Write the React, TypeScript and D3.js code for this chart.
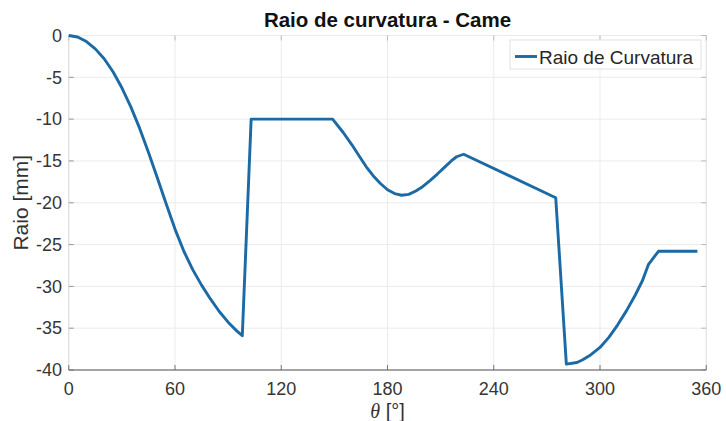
import React from "react";
import * as d3 from "d3";

const thetaDeg = [0, 5, 10, 15, 20, 25, 30, 35, 40, 45, 50, 55, 60, 65, 70, 75, 80, 85, 90, 95, 98,
  103, 149, 155, 160, 164, 168, 172, 176, 180, 184, 188, 192, 196, 200, 204, 208, 212, 216, 219, 223,
  275, 281, 287, 290, 294, 300, 305, 310, 315, 320, 324, 327.3, 333, 355];
const raioMm = [0, -0.18, -0.72, -1.6, -2.78, -4.33, -6.25, -8.5, -11.08, -13.95, -17.0, -20.13, -23.15, -25.8, -28.0, -29.85, -31.5, -33.0, -34.28, -35.35, -35.9,
  -10, -10, -11.6, -13.1, -14.4, -15.7, -16.8, -17.7, -18.45, -18.9, -19.1, -19.0, -18.6, -18.05, -17.35, -16.6, -15.8, -15.0, -14.5, -14.2,
  -19.4, -39.3, -39.1, -38.8, -38.3, -37.3, -36.1, -34.6, -32.9, -31.0, -29.3, -27.4, -25.8, -25.8];

const xTicks = [0, 60, 120, 180, 240, 300, 360];
const yTicks = [0, -5, -10, -15, -20, -25, -30, -35, -40];

const titleText = "Raio de curvatura - Came";
const legendLabel = "Raio de Curvatura";
const yLabel = "Raio [mm]";

export default function App() {
  const W = 726, H = 421;
  const left = 68.75, right = 706.25, top = 35.5, bottom = 370;
  const x = d3.scaleLinear().domain([0, 360]).range([left, right]);
  const y = d3.scaleLinear().domain([-40, 0]).range([bottom, top]);
  const pts = thetaDeg.map((t, i) => [t, raioMm[i]] as [number, number]);
  const line = d3.line<[number, number]>().x(d => x(d[0])).y(d => y(d[1]))(pts) || "";
  const font = "Arial, 'Liberation Sans', Helvetica, sans-serif";
  const lineColor = "#1b6aa5";
  return (
    <div style={{ position: "absolute", left: 0, top: 0 }}>
      <svg width={W} height={H} style={{ display: "block", background: "#fff" }} fontFamily={font}>
        <rect x={0} y={0} width={W} height={H} fill="#fff" />
        {/* grid */}
        {xTicks.map(t => (
          <line key={"gx" + t} x1={x(t)} x2={x(t)} y1={top} y2={bottom} stroke="#ebebeb" strokeWidth={1} />
        ))}
        {yTicks.map(t => (
          <line key={"gy" + t} x1={left} x2={right} y1={y(t)} y2={y(t)} stroke="#ebebeb" strokeWidth={1} />
        ))}
        {/* faint box */}
        <line x1={left} x2={left} y1={top} y2={bottom} stroke="#dcdcdc" strokeWidth={1} />
        <line x1={right} x2={right} y1={top} y2={bottom} stroke="#e4e4e4" strokeWidth={1} />
        {/* ticks */}
        {yTicks.map(t => (
          <g key={"ty" + t}>
            <line x1={left} x2={left + 5} y1={y(t)} y2={y(t)} stroke="#999" strokeWidth={1} />
            <line x1={right - 5} x2={right} y1={y(t)} y2={y(t)} stroke="#bbb" strokeWidth={1} />
            <text x={62} y={y(t)} dy="0.35em" textAnchor="end" fontSize={18} fill="#363636">{t}</text>
          </g>
        ))}
        {xTicks.map(t => (
          <g key={"tx" + t}>
            <line x1={x(t)} x2={x(t)} y1={bottom - 5} y2={bottom} stroke="#777" strokeWidth={1} />
            <line x1={x(t)} x2={x(t)} y1={top} y2={top + 5} stroke="#bbb" strokeWidth={1} />
            <text x={x(t)} y={395} textAnchor="middle" fontSize={18} fill="#363636">{t}</text>
          </g>
        ))}
        <line x1={left} x2={right} y1={bottom} y2={bottom} stroke="#555" strokeWidth={1.2} />
        {/* data */}
        <path d={line} fill="none" stroke={lineColor} strokeWidth={2.9} strokeLinejoin="round" />
        {/* legend */}
        <rect x={510} y={40} width={191} height={29} fill="#fff" stroke="#e2e2e2" strokeWidth={1} />
        <line x1={515} x2={537} y1={56.5} y2={56.5} stroke={lineColor} strokeWidth={2.9} />
        <text x={539} y={63.5} fontSize={19} fill="#262626">{legendLabel}</text>
        {/* title */}
        <text x={(left + right) / 2} y={27} textAnchor="middle" fontSize={20.5} fontWeight="bold" fill="#111">{titleText}</text>
        {/* axis labels */}
        <text transform={`translate(28, ${(top + bottom) / 2}) rotate(-90)`} textAnchor="middle" fontSize={21} fill="#333">{yLabel}</text>
        <text x={(left + right) / 2} y={418} textAnchor="middle" fontSize={20} fill="#333">
          <tspan fontFamily="'Liberation Serif', 'DejaVu Serif', serif" fontStyle="italic">θ</tspan>
          <tspan> [°]</tspan>
        </text>
      </svg>
    </div>
  );
}
